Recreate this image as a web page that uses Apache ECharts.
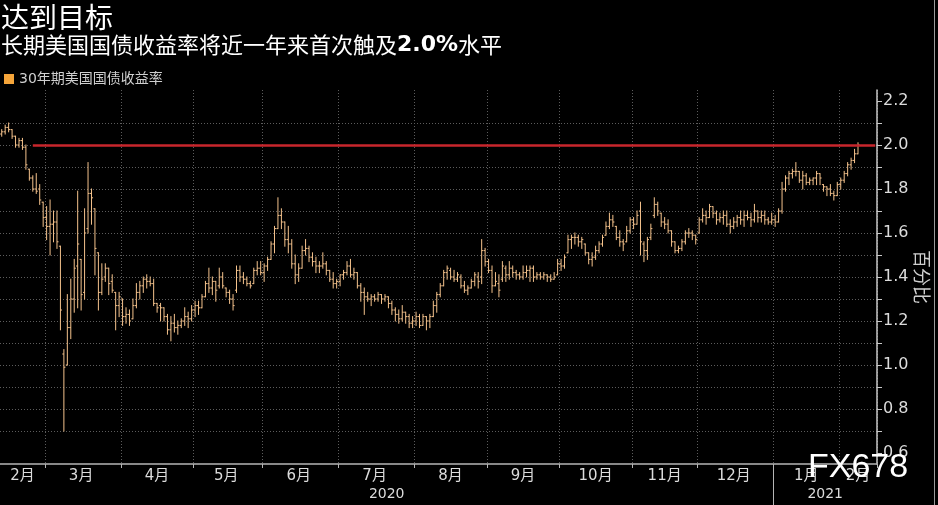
<!DOCTYPE html>
<html>
<head>
<meta charset="utf-8">
<script src="https://cdn.jsdelivr.net/npm/echarts@6.0.0/dist/echarts.min.js"></script>
<style>
html,body{margin:0;padding:0;background:#000;}
#chart{width:938px;height:505px;}
</style>
</head>
<body>
<div id="chart"></div>
<script>
// ---------- categories (bond-market trading days) ----------
const firstDay = '2020-02-11';
const lastDay = '2021-02-16';
const holidays = ['2020-02-17','2020-04-10','2020-05-25','2020-07-03','2020-09-07','2020-10-12',
  '2020-11-11','2020-11-26','2020-12-25','2021-01-01','2021-01-18','2021-02-15'];

// ---------- series values (30Y UST yield, %), one entry per trading day ----------
const opens = [
  2.05,2.06,2.08,2.07,2.04,2.00,2.02,1.99,1.89,1.85,1.80,1.80,1.74,
  1.67,1.63,1.64,1.65,1.54,1.05,1.00,1.17,1.30,1.45,1.48,1.33,1.62,1.78,1.71,1.51,1.33,1.40,1.44,1.38,1.33,1.27,
  1.30,1.22,1.23,1.21,1.27,1.33,1.36,1.39,1.38,1.37,1.28,1.27,1.26,1.22,1.16,1.19,1.17,1.18,1.20,1.22,1.21,
  1.25,1.27,1.26,1.31,1.37,1.35,1.38,1.36,1.40,1.35,1.33,1.30,1.34,1.43,1.40,1.39,1.37,1.37,1.43,1.44,
  1.42,1.45,1.48,1.55,1.62,1.68,1.65,1.57,1.55,1.46,1.41,1.44,1.52,1.53,1.49,1.47,1.45,1.45,1.46,1.43,1.39,1.37,
  1.38,1.41,1.42,1.45,1.41,1.42,1.36,1.33,1.31,1.30,1.31,1.30,1.32,1.30,1.31,1.28,1.25,1.23,1.21,1.24,1.22,1.19,
  1.20,1.22,1.18,1.22,1.20,1.22,1.27,1.32,1.36,1.42,1.43,1.40,1.39,1.40,1.36,1.34,1.35,1.38,1.40,1.40,1.52,
  1.47,1.43,1.36,1.37,1.39,1.44,1.41,1.44,1.42,1.41,1.40,1.42,1.43,1.44,1.40,1.41,1.40,1.41,1.40,1.39,1.41,
  1.46,1.45,1.51,1.57,1.58,1.58,1.56,1.55,1.51,1.48,1.49,1.52,1.55,1.59,1.63,1.66,1.63,1.58,1.56,1.56,1.61,
  1.66,1.64,1.70,1.55,1.52,1.58,1.68,1.73,1.69,1.65,1.64,1.61,1.56,1.52,1.53,1.56,1.60,1.60,1.59,
  1.60,1.66,1.68,1.67,1.72,1.69,1.66,1.67,1.68,1.64,1.63,1.65,1.67,1.66,1.68,1.67,1.66,1.70,1.67,1.68,1.66,1.65,
  1.66,1.65,1.70,1.80,1.85,1.87,1.88,1.88,1.84,1.86,1.83,1.84,1.85,1.87,1.82,1.81,1.80,1.78,1.77,
  1.82,1.84,1.87,1.91,1.93,1.96
];
const highs = [
  2.07,2.09,2.10,2.07,2.04,2.03,2.03,2.00,1.89,1.86,1.87,1.82,1.74,
  1.72,1.75,1.70,1.70,1.54,1.07,1.32,1.39,1.48,1.79,1.48,1.71,1.92,1.80,1.71,1.51,1.46,1.46,1.44,1.41,1.33,1.33,
  1.30,1.26,1.25,1.30,1.37,1.38,1.40,1.41,1.40,1.39,1.28,1.28,1.26,1.23,1.22,1.23,1.20,1.21,1.26,1.24,1.27,
  1.29,1.29,1.32,1.38,1.44,1.40,1.38,1.44,1.42,1.35,1.34,1.32,1.45,1.45,1.42,1.40,1.38,1.44,1.47,1.47,
  1.46,1.49,1.56,1.63,1.76,1.71,1.65,1.63,1.57,1.50,1.46,1.54,1.57,1.54,1.51,1.49,1.47,1.51,1.47,1.43,1.42,1.39,
  1.41,1.43,1.47,1.48,1.44,1.42,1.37,1.35,1.33,1.32,1.32,1.33,1.32,1.32,1.31,1.29,1.26,1.25,1.27,1.24,1.23,1.22,
  1.24,1.23,1.23,1.22,1.23,1.29,1.33,1.37,1.43,1.45,1.44,1.43,1.42,1.41,1.38,1.36,1.39,1.42,1.42,1.57,1.53,
  1.48,1.45,1.42,1.41,1.47,1.45,1.47,1.45,1.43,1.42,1.45,1.45,1.45,1.45,1.42,1.42,1.42,1.41,1.41,1.42,1.48,
  1.48,1.50,1.59,1.59,1.60,1.59,1.58,1.55,1.51,1.51,1.54,1.56,1.59,1.65,1.69,1.68,1.63,1.61,1.57,1.63,1.67,
  1.67,1.70,1.74,1.56,1.58,1.64,1.76,1.74,1.69,1.67,1.66,1.61,1.56,1.54,1.57,1.61,1.62,1.61,1.59,
  1.67,1.71,1.70,1.73,1.72,1.70,1.69,1.70,1.70,1.66,1.67,1.68,1.70,1.70,1.70,1.69,1.73,1.70,1.70,1.70,1.67,1.69,
  1.68,1.71,1.83,1.86,1.88,1.89,1.92,1.88,1.88,1.87,1.85,1.85,1.88,1.87,1.82,1.81,1.82,1.79,1.83,
  1.85,1.88,1.92,1.94,1.98,2.01
];
const lows = [
  2.04,2.05,2.06,2.03,1.99,1.99,1.98,1.89,1.84,1.79,1.78,1.73,1.63,
  1.57,1.50,1.56,1.53,1.16,0.70,1.00,1.12,1.24,1.26,1.25,1.30,1.60,1.64,1.41,1.25,1.32,1.38,1.32,1.33,1.16,1.22,
  1.18,1.19,1.18,1.21,1.26,1.30,1.33,1.35,1.36,1.27,1.24,1.20,1.20,1.14,1.11,1.15,1.14,1.17,1.18,1.17,1.20,
  1.22,1.23,1.26,1.31,1.33,1.32,1.29,1.35,1.35,1.31,1.28,1.25,1.33,1.38,1.37,1.36,1.35,1.37,1.41,1.41,
  1.38,1.43,1.48,1.51,1.62,1.62,1.54,1.51,1.44,1.37,1.38,1.44,1.50,1.47,1.45,1.42,1.42,1.44,1.41,1.38,1.35,1.35,
  1.36,1.39,1.41,1.40,1.39,1.35,1.29,1.23,1.29,1.27,1.29,1.29,1.28,1.29,1.26,1.23,1.20,1.19,1.20,1.19,1.17,1.17,
  1.18,1.17,1.18,1.16,1.17,1.22,1.24,1.31,1.36,1.39,1.39,1.38,1.38,1.35,1.33,1.32,1.35,1.36,1.35,1.37,1.45,
  1.42,1.33,1.36,1.31,1.38,1.38,1.39,1.40,1.39,1.39,1.39,1.40,1.38,1.38,1.39,1.39,1.39,1.38,1.38,1.39,1.41,
  1.43,1.44,1.51,1.53,1.55,1.54,1.53,1.50,1.46,1.45,1.48,1.51,1.54,1.59,1.62,1.63,1.57,1.54,1.52,1.56,1.60,
  1.62,1.64,1.50,1.47,1.48,1.57,1.67,1.68,1.63,1.62,1.60,1.54,1.51,1.51,1.52,1.55,1.58,1.57,1.55,
  1.60,1.65,1.64,1.67,1.67,1.64,1.65,1.64,1.63,1.60,1.62,1.63,1.64,1.63,1.66,1.63,1.65,1.65,1.65,1.64,1.64,1.64,
  1.63,1.65,1.69,1.79,1.82,1.85,1.86,1.83,1.80,1.82,1.82,1.82,1.82,1.82,1.79,1.77,1.77,1.75,1.77,
  1.80,1.83,1.86,1.89,1.92,1.96
];
const closes = [
  2.06,2.08,2.07,2.04,2.00,2.02,1.99,1.91,1.85,1.80,1.79,1.75,1.67,
  1.63,1.64,1.65,1.56,1.25,0.99,1.17,1.30,1.44,1.55,1.32,1.60,1.78,1.76,1.53,1.33,1.39,1.44,1.37,1.34,1.27,1.31,
  1.22,1.23,1.20,1.27,1.33,1.36,1.39,1.38,1.37,1.28,1.26,1.26,1.22,1.16,1.19,1.17,1.18,1.20,1.22,1.21,1.25,
  1.27,1.26,1.31,1.37,1.35,1.38,1.34,1.40,1.36,1.33,1.30,1.27,1.43,1.40,1.39,1.37,1.36,1.43,1.44,1.42,
  1.45,1.48,1.55,1.62,1.68,1.65,1.57,1.55,1.46,1.41,1.44,1.52,1.53,1.49,1.47,1.45,1.45,1.46,1.43,1.39,1.37,1.38,
  1.41,1.42,1.45,1.41,1.42,1.36,1.33,1.31,1.30,1.31,1.30,1.32,1.30,1.31,1.28,1.25,1.23,1.21,1.24,1.22,1.19,1.20,
  1.22,1.18,1.22,1.20,1.22,1.27,1.32,1.36,1.42,1.44,1.40,1.39,1.41,1.36,1.34,1.35,1.38,1.41,1.38,1.52,1.47,
  1.43,1.36,1.38,1.34,1.45,1.41,1.44,1.42,1.41,1.40,1.42,1.43,1.44,1.40,1.41,1.40,1.41,1.40,1.39,1.40,1.46,
  1.45,1.49,1.57,1.58,1.58,1.56,1.57,1.51,1.48,1.49,1.52,1.55,1.58,1.63,1.66,1.65,1.58,1.56,1.55,1.61,1.66,
  1.64,1.68,1.56,1.52,1.57,1.62,1.73,1.70,1.65,1.64,1.61,1.56,1.52,1.53,1.56,1.60,1.60,1.59,1.57,
  1.66,1.68,1.67,1.72,1.69,1.66,1.67,1.68,1.64,1.63,1.65,1.67,1.66,1.68,1.67,1.66,1.70,1.67,1.68,1.66,1.65,1.66,
  1.65,1.70,1.80,1.85,1.87,1.88,1.88,1.84,1.86,1.83,1.84,1.85,1.87,1.85,1.81,1.80,1.78,1.77,1.82,
  1.84,1.87,1.91,1.93,1.96,2.00
];
const targetLevel = 2.0;
const targetStartIndex = 9;

// ---------- tick labels ----------
const yLabelValues = [0.6, 0.8, 1.0, 1.2, 1.4, 1.6, 1.8, 2.0, 2.2];
const yTickValues = [0.6,0.7,0.8,0.9,1.0,1.1,1.2,1.3,1.4,1.5,1.6,1.7,1.8,1.9,2.0,2.1,2.2];

const SERIES_NAME = '30年期美国国债收益率';
const BAR_COLOR = '#f4c28c';
const FONT = '"DejaVu Sans", "Noto Sans CJK SC", sans-serif';
const CJK = '"Noto Sans CJK SC", "DejaVu Sans", sans-serif';

function tradingDays(from, to, skip) {
  const out = [];
  const d = new Date(from + 'T00:00:00Z');
  const end = new Date(to + 'T00:00:00Z');
  while (d <= end) {
    const wd = d.getUTCDay();
    const s = d.toISOString().slice(0, 10);
    if (wd !== 0 && wd !== 6 && skip.indexOf(s) < 0) out.push(s);
    d.setUTCDate(d.getUTCDate() + 1);
  }
  return out;
}
const dates = tradingDays(firstDay, lastDay, holidays);

// month groups
const monthStarts = new Set();
const monthLabelIdx = new Set();
let gStart = 0;
for (let i = 1; i <= dates.length; i++) {
  if (i === dates.length || dates[i].slice(0, 7) !== dates[i - 1].slice(0, 7)) {
    monthLabelIdx.add(Math.floor((gStart + i - 1) / 2));
    if (i < dates.length) monthStarts.add(i);
    gStart = i;
  }
}
const yearStart = dates.findIndex(d => d.slice(0, 4) !== dates[0].slice(0, 4));
const yearLabelPos = [yearStart / 2, (yearStart + dates.length) / 2];

const ohlc = closes.map((c, i) => [i, opens[i], highs[i], lows[i], c]);

function renderItem(params, api) {
  const x = api.value(0);
  const o = api.coord([x, api.value(1)]);
  const h = api.coord([x, api.value(2)]);
  const l = api.coord([x, api.value(3)]);
  const c = api.coord([x, api.value(4)]);
  const w = api.size([1, 0])[0] * 0.45;
  const style = { stroke: BAR_COLOR, lineWidth: 1 };
  return {
    type: 'group',
    children: [
      { type: 'line', shape: { x1: h[0], y1: h[1] - 0.5, x2: l[0], y2: l[1] + 0.5 }, style },
      { type: 'line', shape: { x1: o[0] - w, y1: o[1], x2: o[0], y2: o[1] }, style },
      { type: 'line', shape: { x1: c[0], y1: c[1], x2: c[0] + w, y2: c[1] }, style }
    ]
  };
}

const chart = echarts.init(document.getElementById('chart'));
const option = {
  backgroundColor: '#000',
  animation: false,
  textStyle: { fontFamily: FONT },
  title: [
    { text: '达到目标', left: 1, top: 3, padding: 0,
      textStyle: { color: '#fff', fontSize: 28, fontWeight: 'normal', fontFamily: CJK } },
    { text: '{a|长期美国国债收益率将近一年来首次触及}{b|2.0%}{a|水平}', left: 1, top: 34, padding: 0,
      textStyle: { fontWeight: 'normal', rich: {
        a: { color: '#fff', fontSize: 22, fontWeight: 'normal', fontFamily: CJK },
        b: { color: '#fff', fontSize: 22, fontWeight: 'bold', fontFamily: '"DejaVu Sans", sans-serif' }
      } } }
  ],
  legend: {
    left: 4, top: 72, padding: 0, itemWidth: 10, itemHeight: 10, icon: 'rect', itemGap: 4,
    textStyle: { color: '#cfcfcf', fontSize: 14, fontFamily: FONT },
    data: [{ name: SERIES_NAME, itemStyle: { color: '#f5a53a' } }]
  },
  grid: { left: 0, right: 61, top: 90, bottom: 41, outerBoundsMode: 'none', containLabel: false },
  xAxis: [
    {
      type: 'category', data: dates, boundaryGap: true,
      axisLine: { show: true, onZero: false, lineStyle: { color: '#b5b5b5', width: 1.5 } },
      axisTick: { show: true, interval: (i) => monthStarts.has(i), length: 4, lineStyle: { color: '#b5b5b5' } },
      axisLabel: { interval: (i) => monthLabelIdx.has(i), formatter: (v) => (+v.slice(5, 7)) + '月',
        color: '#dcdcdc', fontSize: 15, margin: 5, fontFamily: FONT },
      splitLine: { show: true, interval: (i) => monthStarts.has(i),
        lineStyle: { color: '#5c5c5c', type: [1, 2], width: 1 } }
    },
    {
      type: 'value', min: 0, max: dates.length, position: 'bottom',
      axisLine: { show: false, onZero: false },
      splitLine: { show: false },
      axisTick: { show: true, customValues: [yearStart], length: 41, lineStyle: { color: '#b5b5b5' } },
      axisLabel: { customValues: yearLabelPos, formatter: (v) => dates[Math.floor(v)].slice(0, 4),
        color: '#dcdcdc', fontSize: 14, margin: 23, fontFamily: FONT }
    }
  ],
  yAxis: {
    type: 'value', position: 'right', min: 0.55, max: 2.25, minInterval: 0.2, maxInterval: 0.2,
    axisLine: { show: true, onZero: false, lineStyle: { color: '#c8c8c8', width: 1.5 } },
    axisTick: { show: true, inside: false, length: 5, customValues: yTickValues, lineStyle: { color: '#c8c8c8' } },
    axisLabel: { customValues: yLabelValues, formatter: (v) => v.toFixed(1), color: '#dcdcdc',
      fontSize: 16, margin: 6, fontFamily: FONT },
    splitLine: { show: true, showMinLine: false, showMaxLine: false,
      lineStyle: { color: '#5c5c5c', type: [1, 2], width: 1 } },
    name: '百分比', nameLocation: 'middle', nameRotate: -90, nameGap: 36, nameMoveOverlap: false,
    nameTextStyle: { color: '#cfcfcf', fontSize: 18, fontFamily: CJK }
  },
  series: [{
    name: SERIES_NAME, type: 'custom', xAxisIndex: 0, yAxisIndex: 0,
    renderItem: renderItem, data: ohlc, encode: { x: 0, y: [1, 2, 3, 4] },
    itemStyle: { color: BAR_COLOR },
    z: 3,
    markLine: {
      silent: true, symbol: 'none', animation: false, label: { show: false },
      lineStyle: { color: '#c8262c', width: 2.5, type: 'solid' },
      data: [[{ coord: [dates[targetStartIndex], targetLevel] }, { coord: [dates[dates.length - 1], targetLevel] }]]
    }
  }],
  graphic: [
    { type: 'text', left: 808, top: 451, z: 100,
      style: { text: 'FX678', fill: '#ffffff', font: '34px "Liberation Sans", Arial, sans-serif' } },
    { type: 'line', z: 100, shape: { x1: 934.5, y1: 0, x2: 934.5, y2: 505 },
      style: { stroke: '#9a9a9a', lineWidth: 1 } }
  ]
};
chart.setOption(option);
</script>
</body>
</html>
